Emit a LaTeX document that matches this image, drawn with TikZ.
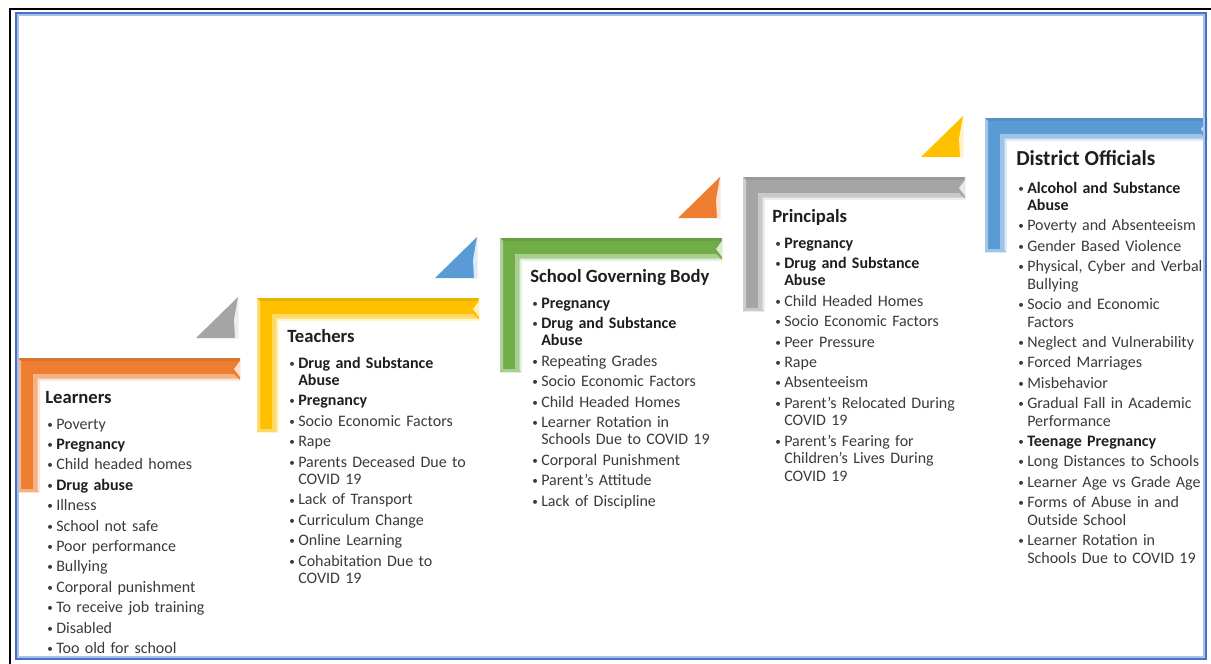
\documentclass[tikz,border=0pt]{standalone}
\usepackage{graphicx}
\usepackage{fontspec}
\setmainfont{Carlito}[WordSpace=0.6]
\newfontfamily\stepfont{Carlito}
\definecolor{orangeS}{HTML}{ED7D31}
\definecolor{yellowS}{HTML}{FFC000}
\definecolor{greenS}{HTML}{70AD47}
\definecolor{grayS}{HTML}{A5A5A5}
\definecolor{blueS}{HTML}{5B9BD5}
\definecolor{frameS}{HTML}{4472C4}
\definecolor{itemtxt}{HTML}{3A3A3A}
\definecolor{titletxt}{HTML}{1E1E1E}
\newcommand{\bu}{\makebox[6.75pt][l]{\raisebox{0.12ex}{\scalebox{0.7}{\textbullet}}}}
\newcommand{\cont}{\hspace*{6.75pt}}
\newcommand{\isep}{2.2pt}
\newcommand{\bolditem}[1]{{\bfseries\color{titletxt}#1}}
\tikzset{
  steptitle/.style={anchor=base west,inner sep=0pt,text=titletxt,
    font=\stepfont\fontsize{14}{16}\selectfont\bfseries},
  steplist/.style={anchor=base west,inner sep=0pt,text=itemtxt,align=left,
    text width=165pt,font=\fontsize{12}{13.1}\selectfont}
}
\begin{document}
\begin{tikzpicture}[x=0.75pt,y=-0.75pt]
      \useasboundingbox (0,0) rectangle (1211,664);
      % L-shaped steps
      \foreach \X/\Y/\c in {18/358/orangeS,257/298/yellowS,500/238/greenS,743/177/grayS,985/118/blueS}{
        \fill[\c] (\X,\Y) -- (\X+222,\Y) -- (\X+222,\Y+22) -- (\X+21,\Y+22) -- (\X+21,\Y+134) -- (\X,\Y+134) -- cycle;
        \fill[\c!92!black] (\X,\Y) -- (\X+222,\Y) -- (\X+219,\Y+3) -- (\X+3,\Y+3) -- cycle;
        \fill[\c!55!white] (\X,\Y) -- (\X+3,\Y+3) -- (\X+3,\Y+131) -- (\X,\Y+134) -- cycle;
        \fill[\c!60!white] (\X+222,\Y+22) -- (\X+21,\Y+22) -- (\X+21,\Y+134) -- (\X+15,\Y+134) -- (\X+15,\Y+16) -- (\X+216,\Y+16) -- cycle;
        \fill[\c!20!white] (\X+222,\Y+22) -- (\X+21,\Y+22) -- (\X+21,\Y+134) -- (\X+19.5,\Y+134) -- (\X+19.5,\Y+20.5) -- (\X+220.5,\Y+20.5) -- cycle;
        \fill[\c!25!white] (\X+222,\Y+3) -- (\X+216,\Y+11) -- (\X+222,\Y+19) -- cycle;
        \fill[\c!60!white] (\X,\Y+134) -- (\X+3,\Y+131) -- (\X+18,\Y+131) -- (\X+21,\Y+134) -- cycle;
      }
      % small triangles
      \foreach \X/\Y/\c in {18/358/grayS,257/298/blueS,500/238/orangeS,743/177/yellowS}{
        \fill[\c] (\X+178,\Y-20) -- (\X+220,\Y-61) -- (\X+220,\Y-20) -- cycle;
        \fill[\c!20!white] (\X+220,\Y-61) -- (\X+216,\Y-38) -- (\X+217,\Y-20) -- (\X+220,\Y-20) -- cycle;
      }
      % titles
      \node[steptitle] (learners) at (45,403) {Learners};
      \node[steptitle] (teachers) at (287,342) {Teachers};
      \node[steptitle] (sgb) at (530,282) {School Governing Body};
      \node[steptitle] (principals) at (772,222) {Principals};
      \node[steptitle,font=\stepfont\fontsize{16}{18}\selectfont\bfseries] (district) at (1016,165) {District Officials};
      % lists
      \node[steplist] (learnersList) at (47,429) {\bu Poverty\\[\isep]
        \bu \bolditem{Pregnancy}\\[\isep]
        \bu Child headed homes\\[\isep]
        \bu \bolditem{Drug abuse}\\[\isep]
        \bu Illness\\[\isep]
        \bu School not safe\\[\isep]
        \bu Poor performance\\[\isep]
        \bu Bullying\\[\isep]
        \bu Corporal punishment\\[\isep]
        \bu To receive job training\\[\isep]
        \bu Disabled\\[\isep]
        \bu Too old for school};
      \node[steplist] (teachersList) at (289,368) {\bu \bolditem{Drug and Substance}\\
        \cont\bolditem{Abuse}\\[\isep]
        \bu \bolditem{Pregnancy}\\[\isep]
        \bu Socio Economic Factors\\[\isep]
        \bu Rape\\[\isep]
        \bu Parents Deceased Due to\\
        \cont COVID 19\\[\isep]
        \bu Lack of Transport\\[\isep]
        \bu Curriculum Change\\[\isep]
        \bu Online Learning\\[\isep]
        \bu Cohabitation Due to\\
        \cont COVID 19};
      \node[steplist] (sgbList) at (532,308) {\bu \bolditem{Pregnancy}\\[\isep]
        \bu \bolditem{Drug and Substance}\\
        \cont\bolditem{Abuse}\\[\isep]
        \bu Repeating Grades\\[\isep]
        \bu Socio Economic Factors\\[\isep]
        \bu Child Headed Homes\\[\isep]
        \bu Learner Rotation in\\
        \cont Schools Due to COVID 19\\[\isep]
        \bu Corporal Punishment\\[\isep]
        \bu Parent’s Attitude\\[\isep]
        \bu Lack of Discipline};
      \node[steplist] (principalsList) at (775,248) {\bu \bolditem{Pregnancy}\\[\isep]
        \bu \bolditem{Drug and Substance}\\
        \cont\bolditem{Abuse}\\[\isep]
        \bu Child Headed Homes\\[\isep]
        \bu Socio Economic Factors\\[\isep]
        \bu Peer Pressure\\[\isep]
        \bu Rape\\[\isep]
        \bu Absenteeism\\[\isep]
        \bu Parent’s Relocated During\\
        \cont COVID 19\\[\isep]
        \bu Parent’s Fearing for\\
        \cont Children’s Lives During\\
        \cont COVID 19};
      \node[steplist] (districtList) at (1018,193) {\bu \bolditem{Alcohol and Substance}\\
        \cont\bolditem{Abuse}\\[\isep]
        \bu Poverty and Absenteeism\\[\isep]
        \bu Gender Based Violence\\[\isep]
        \bu Physical, Cyber and Verbal\\
        \cont Bullying\\[\isep]
        \bu Socio and Economic\\
        \cont Factors\\[\isep]
        \bu Neglect and Vulnerability\\[\isep]
        \bu Forced Marriages\\[\isep]
        \bu Misbehavior\\[\isep]
        \bu Gradual Fall in Academic\\
        \cont Performance\\[\isep]
        \bu \bolditem{Teenage Pregnancy}\\[\isep]
        \bu Long Distances to Schools\\[\isep]
        \bu Learner Age vs Grade Age\\[\isep]
        \bu Forms of Abuse in and\\
        \cont Outside School\\[\isep]
        \bu Learner Rotation in\\
        \cont Schools Due to COVID 19};
      % frame
      \draw[frameS!45!white,line width=0.8pt] (18,15) rectangle (1204,657);
      \draw[frameS,line width=1.5pt] (16,13) rectangle (1206,659);
      \draw[black,line width=1.1pt] (10,664) -- (10,9) -- (1211,9);
\end{tikzpicture}
\end{document}
